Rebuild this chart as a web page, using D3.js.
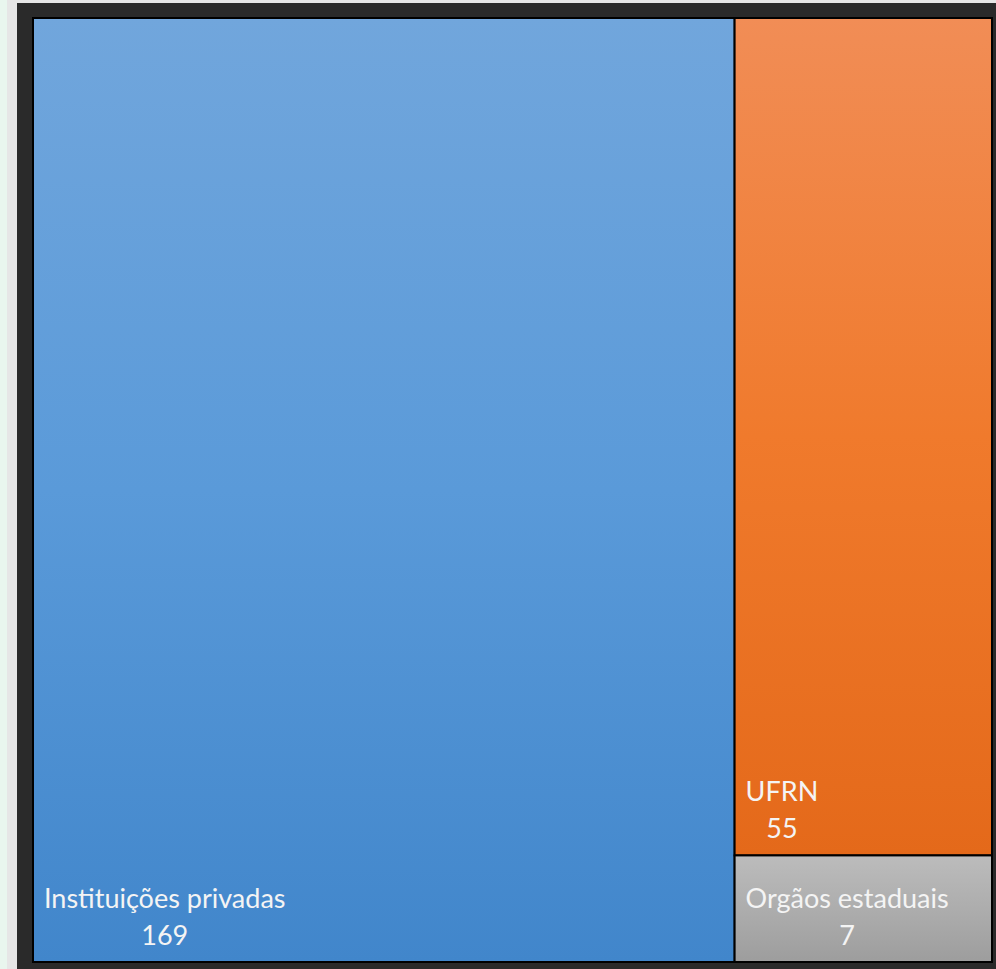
<!DOCTYPE html>
<html>
<head>
<meta charset="utf-8">
<script src="https://cdn.jsdelivr.net/npm/d3@7"></script>
<style>
  html, body { margin: 0; padding: 0; background: #e9f6ee; overflow: hidden; }
  svg { display: block; }
</style>
</head>
<body>
<svg id="chart" width="996" height="969"></svg>
<script>
// dados do treemap
var categorias = ["Instituições privadas", "UFRN", "Orgãos estaduais"];
var valores = [169, 55, 7];
var coresTopo = ["#71a6dc", "#f18d56", "#bcbcbc"];
var coresMeio = ["#5a9ad9", "#f07a2c", "#adadad"];
var coresBase = ["#4186cb", "#e4691a", "#9d9d9d"];

var W = 996, H = 969;
var svg = d3.select("#chart");

// moldura de fundo
svg.append("rect").attr("x", 7).attr("y", 0).attr("width", W - 7).attr("height", H).attr("fill", "#e6e6e6");
svg.append("rect").attr("x", 17).attr("y", 3).attr("width", W - 17).attr("height", H - 3).attr("fill", "#2a2a2a");

var area = { x0: 33, y0: 18, x1: 992, y1: 962 };

var defs = svg.append("defs");
categorias.forEach(function(c, i) {
    var g = defs.append("linearGradient")
        .attr("id", "grad" + i)
        .attr("x1", 0).attr("y1", 0).attr("x2", 0).attr("y2", 1);
    g.append("stop").attr("offset", "0%").attr("stop-color", coresTopo[i]);
    g.append("stop").attr("offset", "50%").attr("stop-color", coresMeio[i]);
    g.append("stop").attr("offset", "100%").attr("stop-color", coresBase[i]);
});

var dados = {
    name: "root",
    children: categorias.map(function(c, i) { return { name: c, value: valores[i], idx: i }; })
};

var root = d3.hierarchy(dados)
    .sum(function(d) { return d.value || 0; })
    .sort(function(a, b) { return b.value - a.value; });

d3.treemap()
    .tile(d3.treemapBinary)
    .size([area.x1 - area.x0, area.y1 - area.y0])
    .paddingInner(0)(root);

var cell = svg.append("g")
    .attr("transform", "translate(" + area.x0 + "," + area.y0 + ")")
    .selectAll("g")
    .data(root.leaves())
    .enter()
    .append("g")
    .attr("transform", function(d) { return "translate(" + d.x0 + "," + d.y0 + ")"; });

cell.append("rect")
    .attr("width", function(d) { return d.x1 - d.x0; })
    .attr("height", function(d) { return d.y1 - d.y0; })
    .attr("fill", function(d) { return "url(#grad" + d.data.idx + ")"; })
    .attr("stroke", "#000")
    .attr("stroke-width", 2);

var rotulo = cell.append("text")
    .attr("font-family", "Lato, 'Open Sans', sans-serif")
    .attr("font-size", 27)
    .attr("fill", "#f4f4f4");

rotulo.append("tspan")
    .attr("class", "nome")
    .attr("x", 11)
    .attr("y", function(d) { return d.y1 - d.y0 - 54; })
    .text(function(d) { return d.data.name; });

rotulo.append("tspan")
    .attr("class", "valor")
    .attr("text-anchor", "middle")
    .attr("y", function(d) { return d.y1 - d.y0 - 17; })
    .text(function(d) { return d.value; });

// centraliza o numero embaixo do nome
cell.each(function(d) {
    var g = d3.select(this);
    var w = g.select(".nome").node().getComputedTextLength();
    g.select(".valor").attr("x", 11 + w / 2);
});
</script>
</body>
</html>
